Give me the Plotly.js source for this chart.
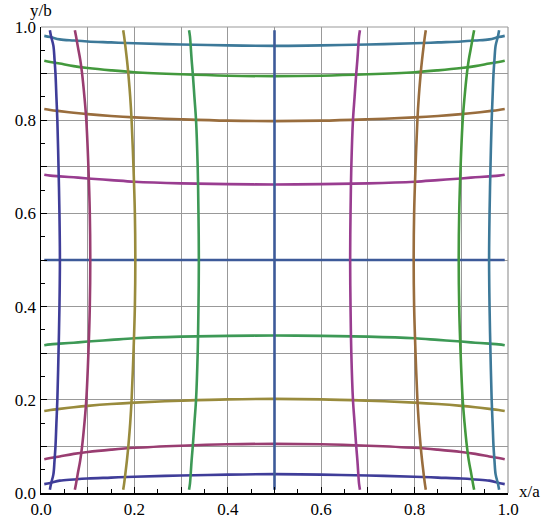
<!DOCTYPE html>
<html>
<head>
<meta charset="utf-8">
<script src="https://cdn.plot.ly/plotly-3.0.1.min.js"></script>
<style>
  html, body { margin: 0; padding: 0; background: #fff; }
  #myViz { width: 543px; height: 521px; }
</style>
</head>
<body>
<div id="myViz"></div>
<script>
// parameter along each curve (x for the horizontal ones, y for the vertical ones)
var t = [0.007, 0.02, 0.04, 0.07, 0.1, 0.15, 0.2, 0.3, 0.4, 0.5, 0.6, 0.7, 0.8, 0.85, 0.9, 0.93, 0.96, 0.98, 0.993];

// level of each curve (grid is the same for x and y)
var lev1 = [0.019, 0.0215, 0.0265, 0.029, 0.031, 0.033, 0.035, 0.0375, 0.0395, 0.0405, 0.0395, 0.0375, 0.035, 0.033, 0.031, 0.029, 0.0265, 0.0215, 0.019];
var lev2 = [0.0725, 0.075, 0.0785, 0.084, 0.088, 0.093, 0.097, 0.1015, 0.1045, 0.1055, 0.1045, 0.1015, 0.097, 0.093, 0.088, 0.084, 0.0785, 0.075, 0.0725];
var lev3 = [0.176, 0.178, 0.1805, 0.184, 0.187, 0.191, 0.194, 0.198, 0.201, 0.202, 0.201, 0.198, 0.194, 0.191, 0.187, 0.184, 0.1805, 0.178, 0.176];
var lev4 = [0.317, 0.319, 0.3205, 0.3225, 0.325, 0.3285, 0.332, 0.3355, 0.3372, 0.338, 0.3372, 0.3355, 0.332, 0.3285, 0.325, 0.3225, 0.3205, 0.319, 0.317];
var lev5 = [0.5, 0.5, 0.5, 0.5, 0.5, 0.5, 0.5, 0.5, 0.5, 0.5, 0.5, 0.5, 0.5, 0.5, 0.5, 0.5, 0.5, 0.5, 0.5];
var lev6 = [0.683, 0.681, 0.6795, 0.6775, 0.675, 0.6715, 0.668, 0.6645, 0.6628, 0.662, 0.6628, 0.6645, 0.668, 0.6715, 0.675, 0.6775, 0.6795, 0.681, 0.683];
var lev7 = [0.824, 0.822, 0.8195, 0.816, 0.813, 0.809, 0.806, 0.802, 0.799, 0.798, 0.799, 0.802, 0.806, 0.809, 0.813, 0.816, 0.8195, 0.822, 0.824];
var lev8 = [0.9275, 0.925, 0.9215, 0.916, 0.912, 0.907, 0.903, 0.8985, 0.8955, 0.8945, 0.8955, 0.8985, 0.903, 0.907, 0.912, 0.916, 0.9215, 0.925, 0.9275];
var lev9 = [0.981, 0.9785, 0.9735, 0.971, 0.969, 0.967, 0.965, 0.9625, 0.9605, 0.9595, 0.9605, 0.9625, 0.965, 0.967, 0.969, 0.971, 0.9735, 0.9785, 0.981];

var levels = [lev1, lev2, lev3, lev4, lev5, lev6, lev7, lev8, lev9];

var colors = [
    'rgb(63,61,153)',
    'rgb(153,61,113)',
    'rgb(153,139,61)',
    'rgb(61,153,86)',
    'rgb(61,90,153)',
    'rgb(153,61,144)',
    'rgb(153,109,61)',
    'rgb(67,153,61)',
    'rgb(61,121,153)'
];

var tickVals = [0, 0.1, 0.2, 0.3, 0.4, 0.5, 0.6, 0.7, 0.8, 0.9, 1];
var tickText = ['0.0', '', '0.2', '', '0.4', '', '0.6', '', '0.8', '', '1.0'];

var data = [];
// horizontal curves first, vertical ones drawn on top
levels.forEach(function(lv, i) {
    data.push({
        x: t, y: lv, type: 'scatter', mode: 'lines',
        line: {color: colors[i], width: 2.6, shape: 'spline', smoothing: 1},
        hoverinfo: 'skip'
    });
});
levels.forEach(function(lv, i) {
    data.push({
        x: lv, y: t, type: 'scatter', mode: 'lines',
        line: {color: colors[i], width: 2.6, shape: 'spline', smoothing: 1},
        hoverinfo: 'skip'
    });
});

var serif = 'Liberation Serif, Times New Roman, serif';

var axisBase = {
    range: [0, 1],
    tickmode: 'array',
    tickvals: tickVals,
    ticktext: tickText,
    ticks: 'inside',
    ticklen: 6,
    tickwidth: 1,
    tickcolor: '#000',
    minor: {dtick: 0.05, tick0: 0, ticks: 'inside', ticklen: 4, tickcolor: '#000', showgrid: false},
    showgrid: true,
    gridcolor: '#999',
    gridwidth: 1,
    zeroline: false,
    showline: true,
    linecolor: '#000',
    linewidth: 1.5,
    mirror: false,
    tickfont: {family: serif, size: 17, color: '#000'},
    fixedrange: true
};

var layout = {
    width: 543,
    height: 521,
    margin: {l: 41, r: 35, t: 27, b: 28},
    paper_bgcolor: '#fff',
    plot_bgcolor: '#fff',
    showlegend: false,
    xaxis: Object.assign({}, axisBase),
    yaxis: Object.assign({}, axisBase),
    shapes: [
        {type: 'line', xref: 'paper', yref: 'paper', x0: 0, x1: 1, y0: 1, y1: 1,
         line: {color: '#999', width: 1.2}, layer: 'below'},
        {type: 'line', xref: 'paper', yref: 'paper', x0: 1, x1: 1, y0: 0, y1: 1,
         line: {color: '#999', width: 1.2}, layer: 'below'}
    ],
    annotations: [
        {text: 'y/b', xref: 'paper', yref: 'paper', x: 0, y: 1.036,
         xanchor: 'center', yanchor: 'middle', showarrow: false,
         font: {family: serif, size: 17, color: '#000'}},
        {text: 'x/a', xref: 'paper', yref: 'paper', x: 1.047, y: 0.003,
         xanchor: 'center', yanchor: 'middle', showarrow: false,
         font: {family: serif, size: 17, color: '#000'}}
    ]
};

Plotly.newPlot('myViz', data, layout, {displayModeBar: false, staticPlot: true});
</script>
</body>
</html>
